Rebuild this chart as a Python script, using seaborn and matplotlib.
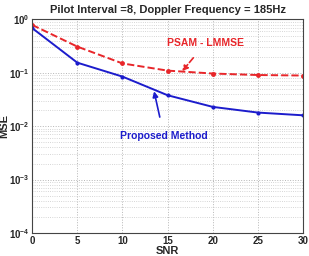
import matplotlib
matplotlib.use("Agg")
import matplotlib.pyplot as plt
import seaborn as sns
import pandas as pd
from matplotlib.ticker import LogLocator, NullFormatter

snr = [0, 5, 10, 15, 20, 25, 30]
psam_lmmse = [0.79, 0.31, 0.15, 0.11, 0.097, 0.091, 0.089]
proposed = [0.69, 0.155, 0.085, 0.038, 0.023, 0.018, 0.016]

sns.set_style("white")
plt.rcParams['font.family'] = ['Liberation Sans', 'DejaVu Sans']
plt.rcParams['font.weight'] = 'bold'

df = pd.DataFrame({"SNR": snr * 2,
                   "MSE": psam_lmmse + proposed,
                   "Method": ["PSAM - LMMSE"] * len(snr) + ["Proposed Method"] * len(snr)})

fig = plt.figure(figsize=(3.09, 2.56), dpi=100)
ax = fig.add_axes([0.104, 0.09, 0.877, 0.834])

sns.lineplot(data=df[df.Method == "PSAM - LMMSE"], x="SNR", y="MSE", ax=ax,
             color="#e8262a", linestyle="--", linewidth=1.4, marker="o",
             markersize=3.5, markeredgewidth=0)
sns.lineplot(data=df[df.Method == "Proposed Method"], x="SNR", y="MSE", ax=ax,
             color="#1c1ccc", linestyle="-", linewidth=1.4, marker="o",
             markersize=3, markeredgewidth=0)

ax.set_yscale("log")
ax.set_ylim(1e-4, 1)
ax.set_xlim(0, 30)
ax.set_xticks([0, 5, 10, 15, 20, 25, 30])
ax.yaxis.set_major_locator(LogLocator(base=10, numticks=10))
ax.yaxis.set_minor_locator(LogLocator(base=10, subs=range(2, 10), numticks=20))
ax.yaxis.set_minor_formatter(NullFormatter())
ax.grid(True, which="major", color="#b5b5b5", linestyle=":", linewidth=0.7)
ax.grid(True, which="minor", axis="y", color="#c8c8c8", linestyle=":", linewidth=0.6)
ax.tick_params(axis="both", which="both", direction="in", labelsize=7, length=2, pad=2)
for lab in ax.get_xticklabels() + ax.get_yticklabels():
    lab.set_fontweight("bold")
for s in ax.spines.values():
    s.set_color("#444444")
    s.set_linewidth(0.8)

ax.set_title("Pilot Interval =8, Doppler Frequency = 185Hz", fontsize=8, fontweight="bold", pad=5)
ax.set_xlabel("SNR", fontsize=8, fontweight="bold")
ax.set_ylabel("MSE", fontsize=8, fontweight="bold")
ax.xaxis.set_label_coords(0.5, -0.062)
ax.yaxis.set_label_coords(-0.085, 0.5)

ax.annotate("PSAM - LMMSE", xy=(16.6, 0.107), xytext=(19.2, 0.36),
            color="#e8262a", fontsize=7.5, fontweight="bold", ha="center", va="center",
            arrowprops=dict(arrowstyle="-|>", color="#e8262a", linestyle="--", lw=1.2,
                            shrinkA=6, shrinkB=0, mutation_scale=8))
ax.annotate("Proposed Method", xy=(13.5, 0.045), xytext=(14.6, 0.0065),
            color="#1c1ccc", fontsize=7.5, fontweight="bold", ha="center", va="center",
            arrowprops=dict(arrowstyle="-|>", color="#1c1ccc", lw=1.2,
                            shrinkA=8, shrinkB=0, mutation_scale=8))

if ax.legend_:
    ax.legend_.remove()
fig.savefig("out.png", dpi=100)
